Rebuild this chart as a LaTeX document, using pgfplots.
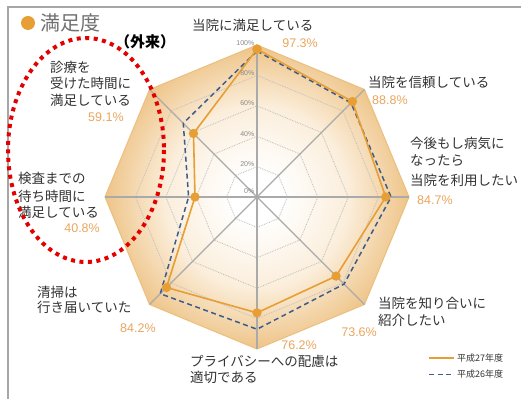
\documentclass[border=0pt]{standalone}
\usepackage{fontspec}
\setmainfont{Noto Sans CJK JP}
\newfontfamily\numfont{Liberation Sans}
\usepackage{pgfplots}
\pgfplotsset{compat=1.18}
\definecolor{shadeOut}{HTML}{EEC488}
\definecolor{shadeMid}{HTML}{FBEEDB}
\definecolor{octEdge}{HTML}{EBC07F}
\definecolor{lineOr}{HTML}{E69E35}
\definecolor{dashBl}{HTML}{3D5C8A}
\definecolor{pctOr}{HTML}{EAA65E}
\definecolor{txt}{HTML}{333333}
\definecolor{titleGray}{HTML}{707070}
\definecolor{gridc}{HTML}{BDBDBD}
\definecolor{spoke}{HTML}{AAAAAA}
\definecolor{tickc}{HTML}{8A8A8A}
\pgfdeclareradialshading{octshade}{\pgfpoint{0bp}{0bp}}{color(0bp)=(white); color(4bp)=(white); color(15bp)=(shadeMid); color(25bp)=(shadeOut); color(50bp)=(shadeOut)}
\begin{document}
\begin{tikzpicture}
\useasboundingbox (0,0) rectangle (521pt,399pt);
\fill[white] (0,0) rectangle (521pt,399pt);
\begin{axis}[at={(257pt,202pt)}, anchor=origin, x=1.52pt, y=1.52pt,
  xmin=-110, xmax=110, ymin=-110, ymax=110, hide axis, clip=false,
  reverse legend,
  legend style={at={(1.012,-0.006)}, anchor=west, draw=none, fill=none,
    font=\fontsize{9}{10}\selectfont\color{txt}, inner sep=0pt, row sep=3pt,
    /tikz/every even column/.append style={column sep=2pt}},
  legend cell align=left]
% octagon background
\addplot[draw=octEdge, line width=1pt, shading=octshade, shade, data cs=polar, forget plot]
  coordinates {(90,100)(45,100)(0,100)(-45,100)(-90,100)(-135,100)(180,100)(135,100)(90,100)};
% rings
\addplot[gridc, densely dotted, line width=0.8pt, data cs=polar, forget plot]
  coordinates {(90,80)(45,80)(0,80)(-45,80)(-90,80)(-135,80)(180,80)(135,80)(90,80)};
\addplot[gridc, densely dotted, line width=0.8pt, data cs=polar, forget plot]
  coordinates {(90,60)(45,60)(0,60)(-45,60)(-90,60)(-135,60)(180,60)(135,60)(90,60)};
\addplot[gridc, densely dotted, line width=0.8pt, data cs=polar, forget plot]
  coordinates {(90,40)(45,40)(0,40)(-45,40)(-90,40)(-135,40)(180,40)(135,40)(90,40)};
\addplot[gridc, densely dotted, line width=0.8pt, data cs=polar, forget plot]
  coordinates {(90,20)(45,20)(0,20)(-45,20)(-90,20)(-135,20)(180,20)(135,20)(90,20)};
% spokes
\addplot[spoke, line width=1.1pt, data cs=polar, forget plot] coordinates {(90,100)(270,100)};
\addplot[spoke, line width=1.1pt, data cs=polar, forget plot] coordinates {(45,100)(225,100)};
\addplot[spoke, line width=1.1pt, data cs=polar, forget plot] coordinates {(0,100)(180,100)};
\addplot[spoke, line width=1.1pt, data cs=polar, forget plot] coordinates {(135,100)(315,100)};
% H26 dashed
\addplot[dashBl, line width=1.5pt, dash pattern=on 5pt off 3.5pt, data cs=polar, mark=none,
  legend image code/.code={\draw[dashBl, line width=1.5pt, dash pattern=on 5pt off 3.5pt] (0pt,0pt) -- (25pt,0pt);}]
  coordinates {(90,96)(45,87.5)(0,88.2)(-45,81)(-90,87)(-135,90)(180,45)(135,68.6)(90,96)};
\addlegendentry{平成26年度}
% H27 solid
\addplot[lineOr, line width=1.6pt, mark=*, mark size=3.8pt, mark options={solid, fill=lineOr, draw=lineOr}, data cs=polar,
  legend image code/.code={\draw[lineOr, line width=1.6pt] (0pt,0pt) -- (25pt,0pt);}]
  coordinates {(90,97.3)(45,88.8)(0,84.7)(-45,73.6)(-90,76.2)(-135,84.2)(180,40.8)(135,59.1)(90,97.3)};
\addlegendentry{平成27年度}
% tick labels
\node[anchor=east, font=\numfont\fontsize{7}{8}\selectfont, text=tickc, inner sep=1pt] at (axis cs:-1,101) {100\%};
\node[anchor=east, font=\numfont\fontsize{7}{8}\selectfont, text=tickc, inner sep=1pt] at (axis cs:-1,81.5) {80\%};
\node[anchor=east, font=\numfont\fontsize{7}{8}\selectfont, text=tickc, inner sep=1pt] at (axis cs:-1,61.5) {60\%};
\node[anchor=east, font=\numfont\fontsize{7}{8}\selectfont, text=tickc, inner sep=1pt] at (axis cs:-1,41.5) {40\%};
\node[anchor=east, font=\numfont\fontsize{7}{8}\selectfont, text=tickc, inner sep=1pt] at (axis cs:-1,21.5) {20\%};
\node[anchor=east, font=\numfont\fontsize{7}{8}\selectfont, text=tickc, inner sep=1pt] at (axis cs:-1,4) {0\%};
\end{axis}
\begin{scope}[x=1pt, y=-1pt, yshift=399pt,
  lab/.style={anchor=west, inner sep=0pt, font=\fontsize{13.5}{16}\selectfont, text=txt},
  pct/.style={inner sep=0pt, font=\numfont\fontsize{12.5}{14}\selectfont, text=pctOr}]
\draw[gray!70, line width=1.2pt] (8,399) -- (8,7) -- (521,7);
\fill[lineOr] (28,23) circle (7pt);
\node[anchor=west, inner sep=0pt, font=\fontsize{20}{22}\selectfont, text=titleGray] at (40,23) {満足度};
\node[inner sep=0pt, font=\bfseries\fontsize{15}{16}\selectfont] at (145,42) {（外来）};
% top
\node[lab] at (192,25) {当院に満足している};
\node[pct, anchor=east] at (318,43) {97.3\%};
% top right
\node[lab] at (368,82) {当院を信頼している};
\node[pct, anchor=west] at (372,100) {88.8\%};
% right
\node[lab] at (410,143) {今後もし病気に};
\node[lab] at (410,161) {なったら};
\node[lab] at (410,180) {当院を利用したい};
\node[pct, anchor=west] at (417,200) {84.7\%};
% bottom right
\node[lab] at (378,303) {当院を知り合いに};
\node[lab] at (378,320) {紹介したい};
\node[pct, anchor=east] at (377,332) {73.6\%};
% bottom
\node[pct, anchor=east] at (317,345) {76.2\%};
\node[lab] at (190,361) {プライバシーへの配慮は};
\node[lab] at (190,377) {適切である};
% bottom left
\node[lab] at (37,292) {清掃は};
\node[lab] at (37,307) {行き届いていた};
\node[pct, anchor=west] at (120,328) {84.2\%};
% left
\node[lab] at (18,178) {検査までの};
\node[lab] at (18,196) {待ち時間に};
\node[lab] at (18,212) {満足している};
\node[pct, anchor=east] at (100,228) {40.8\%};
% top left
\node[lab] at (50,67) {診療を};
\node[lab] at (50,83) {受けた時間に};
\node[lab] at (50,100) {満足している};
\node[pct, anchor=west] at (88,117) {59.1\%};
% red dotted ellipse
\draw[red!90!black, line width=4pt, dash pattern=on 4pt off 4.5pt] (86,150) ellipse [x radius=78, y radius=112];
\end{scope}
\end{tikzpicture}
\end{document}
